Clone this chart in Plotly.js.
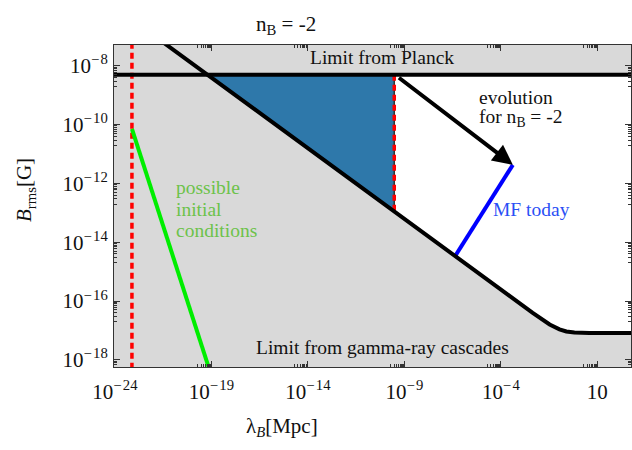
<!DOCTYPE html>
<html>
<head>
<meta charset="utf-8">
<script src="https://cdn.plot.ly/plotly-3.0.1.min.js"></script>
<style>html,body{margin:0;padding:0;background:#fff}#chart{width:632px;height:450px}</style>
</head>
<body>
<div id="chart"></div>
<script>
// ---- data ----
// gamma-ray cascade lower limit (black curve); 2nd point = crossing with Planck limit
var gammaX = [2e-22, 6.0e-20, 3.0e-10, 4.3e-7, 4.5e-3, 0.034, 0.11, 0.25, 0.65, 3.9, 800];
var gammaY = [7.8e-8, 5.0e-9, 1.1e-13, 3.4e-15, 4.0e-17, 1.6e-17, 1.1e-17, 9.3e-18, 8.5e-18, 8.3e-18, 8.3e-18];
// Planck upper limit
var planckB = 5.0e-9;
// allowed window (blue triangle)
var windowX = [6.0e-20, 3.0e-10, 3.0e-10];
var windowY = [5.0e-9, 5.0e-9, 1.1e-13];
// red dashed lines
var redLeftX = 7.6e-24;
var redRightX = 3.0e-10;
// possible initial conditions (green)
var greenX = [7.6e-24, 9.5e-20];
var greenY = [7.2e-11, 3.2e-19];
// MF today (blue line)
var todayX = [4.3e-7, 4.2e-4];
var todayY = [3.4e-15, 4.3e-12];
// evolution arrow (start, end)
var arrowX = [4.4e-10, 4.2e-4];
var arrowY = [4.3e-9, 4.3e-12];
// axis ranges and ticks
var xRange = [1e-24 / 1.12, 560];
var yRange = [5.75e-19, 5.1e-8];
var xTickVals = [1e-24, 1e-19, 1e-14, 1e-9, 1e-4, 10];
var xTickText = ['10<sup>\u2212\u200a24</sup>', '10<sup>\u2212\u200a19</sup>', '10<sup>\u2212\u200a14</sup>', '10<sup>\u2212\u200a9</sup>', '10<sup>\u2212\u200a4</sup>', '10'];
var yTickVals = [1e-8, 1e-10, 1e-12, 1e-14, 1e-16, 1e-18];
var yTickText = ['10<sup>\u2212\u200a8</sup>', '10<sup>\u2212\u200a10</sup>', '10<sup>\u2212\u200a12</sup>', '10<sup>\u2212\u200a14</sup>', '10<sup>\u2212\u200a16</sup>', '10<sup>\u2212\u200a18</sup>'];

function minorFor(majors) {
  var out = [];
  majors.forEach(function (m) {
    for (var k = 2; k <= 9; k++) out.push(m / 10 * k);
  });
  return out;
}

var L = Math.log10;
var FONT = 'Liberation Serif';
var GRAY = '#d9d9d9';

// white (excluded) region: above the gamma line, below Planck, right of their crossing
var whiteX = gammaX.slice(1).concat([gammaX[gammaX.length - 1], gammaX[1]]);
var whiteY = gammaY.slice(1).concat([planckB, planckB]);

var traces = [
  {x: whiteX, y: whiteY, mode: 'lines', fill: 'toself', fillcolor: '#ffffff', line: {width: 0}, hoverinfo: 'skip'},
  {x: windowX, y: windowY, mode: 'lines', fill: 'toself', fillcolor: '#2e78aa', line: {width: 0}, hoverinfo: 'skip'},
  {x: [redRightX, redRightX], y: [planckB, gammaY[2]], mode: 'lines', line: {color: '#333', width: 1.5}, hoverinfo: 'skip'},
  {x: [redRightX, redRightX], y: [planckB, gammaY[2]], mode: 'lines', line: {color: '#ff0000', width: 3.5, dash: '6px,4px'}, hoverinfo: 'skip'},
  {x: [redLeftX, redLeftX], y: [1e-20, 1e-6], mode: 'lines', line: {color: '#ff0000', width: 3.5, dash: '6px,4px'}, hoverinfo: 'skip'},
  {x: greenX, y: greenY, mode: 'lines', line: {color: '#00ee00', width: 4}, hoverinfo: 'skip'},
  {x: todayX, y: todayY, mode: 'lines', line: {color: '#0000ff', width: 4}, hoverinfo: 'skip'},
  {x: [1e-26, 1e4], y: [planckB, planckB], mode: 'lines', line: {color: '#000', width: 4}, hoverinfo: 'skip'},
  {x: gammaX, y: gammaY, mode: 'lines', line: {color: '#000', width: 4}, hoverinfo: 'skip'}
];

function txt(x, y, s, color, anchor) {
  return {x: L(x), y: L(y), xref: 'x', yref: 'y', text: s, showarrow: false,
    xanchor: anchor || 'left', yanchor: 'middle', font: {family: FONT, size: 19.5, color: color || '#111'}};
}

var annotations = [
  txt(1.0e-14, 1.85e-8, 'Limit from Planck'),
  txt(5.8e-6, 8.1e-10, 'evolution'),
  txt(5.8e-6, 1.7e-10, 'for n<sub>B</sub> = -2'),
  txt(1.1e-21, 7.1e-13, 'possible', '#6cc24a'),
  txt(1.1e-21, 1.26e-13, 'initial', '#6cc24a'),
  txt(1.1e-21, 2.45e-14, 'conditions', '#6cc24a'),
  txt(3.0e-5, 1.26e-13, 'MF today', '#2a4ff5'),
  txt(1.66e-17, 2.6e-18, 'Limit from gamma-ray cascades'),
  {x: L(arrowX[1]), y: L(arrowY[1]), ax: L(arrowX[0]), ay: L(arrowY[0]), xref: 'x', yref: 'y', axref: 'x', ayref: 'y',
    showarrow: true, arrowhead: 2, arrowsize: 1, arrowwidth: 4, arrowcolor: '#000', standoff: 0, startstandoff: 0, text: ''},
  {x: 0.333, y: 1.062, xref: 'paper', yref: 'paper', text: 'n<sub>B</sub> = -2', showarrow: false,
    xanchor: 'center', yanchor: 'middle', font: {family: FONT, size: 21, color: '#111'}},
  {x: 0.325, y: -0.186, xref: 'paper', yref: 'paper', text: '\u03bb<sub><i>B</i></sub>[Mpc]', showarrow: false,
    xanchor: 'center', yanchor: 'middle', font: {family: FONT, size: 21, color: '#111'}},
  {x: -0.172, y: 0.55, xref: 'paper', yref: 'paper', text: '<i>B</i><sub>rms</sub>[G]', showarrow: false, textangle: -90,
    xanchor: 'center', yanchor: 'middle', font: {family: FONT, size: 21, color: '#111'}}
];

var layout = {
  width: 632, height: 450,
  font: {family: FONT, size: 21, color: '#111'},
  margin: {l: 114, r: 1, t: 45, b: 83, pad: 0},
  paper_bgcolor: '#ffffff', plot_bgcolor: GRAY,
  showlegend: false,
  xaxis: {
    type: 'log', showgrid: false, zeroline: false, showline: true, linecolor: '#333', linewidth: 1,
    mirror: 'allticks', ticks: 'inside', ticklen: 6, tickwidth: 1, tickcolor: '#333',
    tickmode: 'array', tickfont: {family: FONT, size: 21, color: '#111'},
    range: [L(xRange[0]), L(xRange[1])], tickvals: xTickVals, ticktext: xTickText, ticklabelstandoff: 6,
    minor: {ticks: 'inside', ticklen: 3, tickcolor: '#333', tickmode: 'array', tickvals: minorFor(xTickVals)}
  },
  yaxis: {
    type: 'log', showgrid: false, zeroline: false, showline: true, linecolor: '#333', linewidth: 1,
    mirror: 'allticks', ticks: 'inside', ticklen: 6, tickwidth: 1, tickcolor: '#333',
    tickmode: 'array', tickfont: {family: FONT, size: 21, color: '#111'},
    range: [L(yRange[0]), L(yRange[1])], tickvals: yTickVals, ticktext: yTickText, ticklabelstandoff: 1,
    minor: {ticks: 'inside', ticklen: 3, tickcolor: '#333', tickmode: 'array', tickvals: minorFor(yTickVals)}
  },
  annotations: annotations
};

Plotly.newPlot('chart', traces, layout, {displayModeBar: false, staticPlot: true});
</script>
</body>
</html>
